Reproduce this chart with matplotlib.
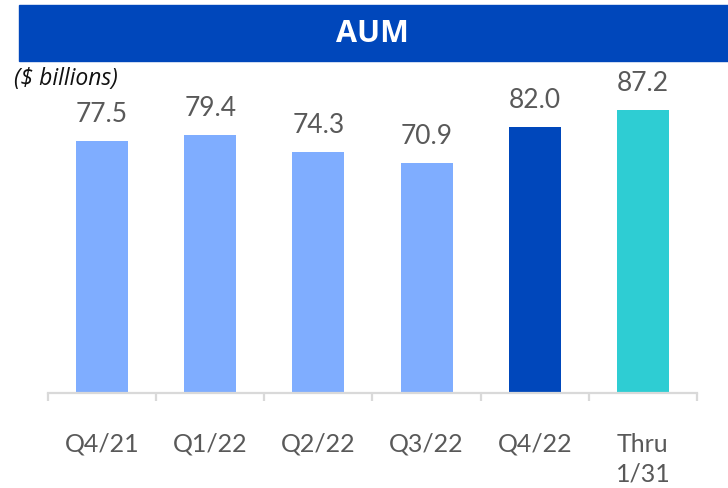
import matplotlib
matplotlib.use("Agg")
import matplotlib.pyplot as plt
from matplotlib.patches import Rectangle
import numpy as np

# Data
categories = ["Q4/21", "Q1/22", "Q2/22", "Q3/22", "Q4/22", "Thru\n1/31"]
aum = [77.5, 79.4, 74.3, 70.9, 82.0, 87.2]
bar_colors = ["#7FADFF", "#7FADFF", "#7FADFF", "#7FADFF", "#0047BB", "#2ECDD3"]

W, H = 728, 489
fig = plt.figure(figsize=(W / 100, H / 100), dpi=100)

# Title banner
fig.patches.append(Rectangle((19 / W, 1 - 62 / H), 1 - 19 / W, 56 / H,
                             transform=fig.transFigure, color="#0047BB", zorder=0))
fig.text(372 / W, 1 - 34 / H, "AUM", color="white", fontsize=22, fontweight="bold",
         family="Open Sans", ha="center", va="center")
fig.text(14 / W, 1 - 79 / H, "($ billions)", color="#111111", fontsize=16.5,
         style="italic", family="Open Sans", ha="left", va="center")

# Axes: bottom at y=394 px, top at 87.2 -> y=111 px
ax = fig.add_axes([48 / W, (H - 394) / H, 649 / W, 283 / H])
x = np.arange(len(categories))
bars = ax.bar(x, aum, width=0.48, color=bar_colors, zorder=2)
ax.set_xlim(-0.5, len(categories) - 0.5)
ax.set_ylim(0, 87.2)

for rect, v in zip(bars, aum):
    ax.annotate(f"{v:.1f}", (rect.get_x() + rect.get_width() / 2, v),
                xytext=(0, 11), textcoords="offset points", ha="center", va="bottom",
                fontsize=19, color="#595959", family="Lato", annotation_clip=False)

for s in ["top", "right", "left"]:
    ax.spines[s].set_visible(False)
ax.spines["bottom"].set_color("#D9D9D9")
ax.spines["bottom"].set_linewidth(1.6)
ax.set_yticks([])

ax.set_xticks(x)
ax.set_xticklabels(categories, fontsize=18, color="#595959", family="Lato",
                   va="top", linespacing=1.35)
ax.tick_params(axis="x", which="major", length=0, pad=28)
ax.set_xticks(np.arange(-0.5, len(categories)), minor=True)
ax.tick_params(axis="x", which="minor", length=6, width=1.6, color="#D9D9D9", direction="out")

fig.savefig("out.png", dpi=100)
